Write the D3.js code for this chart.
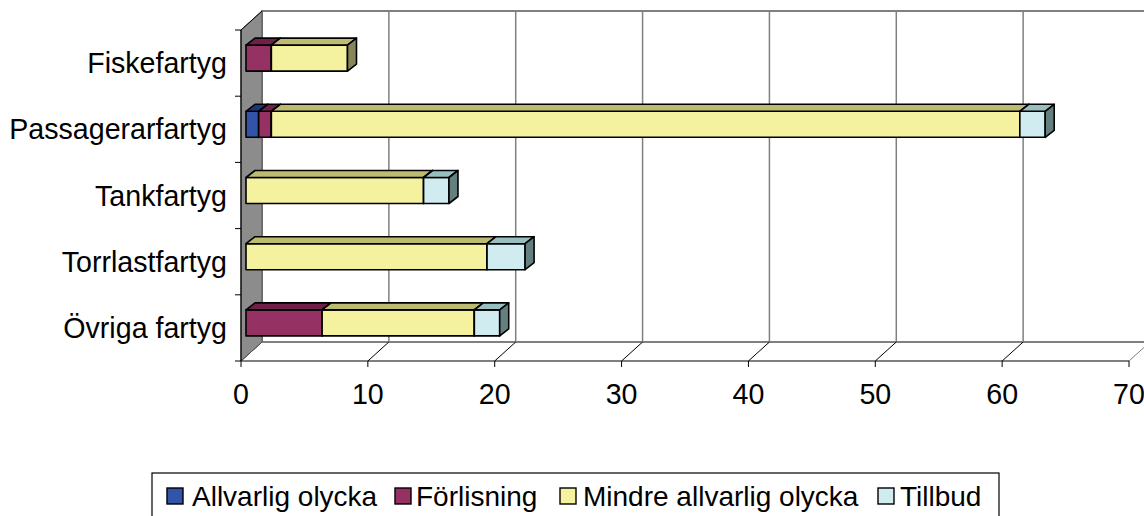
<!DOCTYPE html>
<html>
<head>
  <meta charset="UTF-8">
  <style>
    body { margin: 0; background: #fff; }
    svg { display: block; }
    text { font-family: "Liberation Sans", Arial, sans-serif; font-size: 28.6px; fill: #000; }
    .legend text { font-size: 28px; }
  </style>
</head>
<body>
  <svg width="1144" height="516"></svg>
  <script src="https://d3js.org/d3.v7.min.js"></script>
  <script>
    // data
    const categories = ['Fiskefartyg', 'Passagerarfartyg', 'Tankfartyg', 'Torrlastfartyg', 'Övriga fartyg'];
    const seriesNames = ['Allvarlig olycka', 'Förlisning', 'Mindre allvarlig olycka', 'Tillbud'];
    const allvarlig = [0, 1, 0, 0, 0];
    const forlisning = [2, 1, 0, 0, 6];
    const mindre = [6, 59, 14, 19, 12];
    const tillbud = [0, 2, 2, 3, 2];
    const xTicks = [0, 10, 20, 30, 40, 50, 60, 70];

    const colors = [
      { front: '#3253a8', top: '#1f357a', side: '#1a2c66' },
      { front: '#953163', top: '#6e2049', side: '#5a1a3c' },
      { front: '#f4f19f', top: '#bdbb72', side: '#87865a' },
      { front: '#d1ecf0', top: '#98bfbf', side: '#647f7f' }
    ];

    const svg = d3.select('svg');

    // front plane scales, back wall is shifted by depth
    const x = d3.scaleLinear().domain([0, 70]).range([241, 1129]);
    const y = d3.scaleBand().domain(categories).range([30, 361]);
    const back = { dx: 21, dy: -19 };
    const barOff = { dx: 5, dy: -5 };
    const depth = { dx: 9, dy: -7 };
    const barH = 26;

    const y0 = 30, y1 = 361;

    // back wall
    svg.append('rect')
      .attr('x', x(0) + back.dx).attr('y', y0 + back.dy)
      .attr('width', x(70) - x(0) + 10).attr('height', y1 - y0)
      .attr('fill', '#fff').attr('stroke', '#808080').attr('stroke-width', 2);

    // gridlines on back wall
    svg.append('g').selectAll('line')
      .data(xTicks.slice(1))
      .join('line')
      .attr('x1', d => x(d) + back.dx).attr('x2', d => x(d) + back.dx)
      .attr('y1', y0 + back.dy).attr('y2', y1 + back.dy)
      .attr('stroke', '#808080').attr('stroke-width', 1.5);

    // floor
    svg.append('polygon')
      .attr('points', [[x(0), y1], [x(70), y1], [x(70) + back.dx, y1 + back.dy], [x(0) + back.dx, y1 + back.dy]].join(' '))
      .attr('fill', '#fff').attr('stroke', 'none');
    svg.append('line')
      .attr('x1', x(0) + back.dx).attr('x2', 1144)
      .attr('y1', y1 + back.dy).attr('y2', y1 + back.dy)
      .attr('stroke', '#808080').attr('stroke-width', 2);
    svg.append('g').selectAll('line')
      .data(xTicks)
      .join('line')
      .attr('x1', d => x(d)).attr('y1', y1)
      .attr('x2', d => x(d) + back.dx).attr('y2', y1 + back.dy)
      .attr('stroke', (d, i) => i === xTicks.length - 1 ? '#808080' : '#000').attr('stroke-width', 1);

    // side wall
    svg.append('polygon')
      .attr('points', [[x(0), y0], [x(0) + back.dx, y0 + back.dy], [x(0) + back.dx, y1 + back.dy], [x(0), y1]].join(' '))
      .attr('fill', '#8c8c8c').attr('stroke', '#555').attr('stroke-width', 1);

    // axes lines
    svg.append('line')
      .attr('x1', x(0)).attr('x2', x(70)).attr('y1', y1).attr('y2', y1)
      .attr('stroke', '#000').attr('stroke-width', 1.2);
    svg.append('line')
      .attr('x1', x(0)).attr('x2', x(0)).attr('y1', y0).attr('y2', y1)
      .attr('stroke', '#000').attr('stroke-width', 1.2);
    svg.append('line')
      .attr('x1', x(0)).attr('x2', x(0) + back.dx).attr('y1', y0).attr('y2', y0 + back.dy)
      .attr('stroke', '#000').attr('stroke-width', 1);

    // x ticks and labels
    svg.append('g').selectAll('line')
      .data(xTicks)
      .join('line')
      .attr('x1', d => x(d)).attr('x2', d => x(d))
      .attr('y1', y1).attr('y2', y1 + 6)
      .attr('stroke', '#000');
    svg.append('g').selectAll('text')
      .data(xTicks)
      .join('text')
      .attr('x', d => x(d)).attr('y', 404)
      .attr('text-anchor', 'middle')
      .text(d => d);

    // y ticks and labels
    const yEdges = categories.map(c => y(c)).concat([y1]);
    svg.append('g').selectAll('line')
      .data(yEdges)
      .join('line')
      .attr('x1', x(0) - 6).attr('x2', x(0))
      .attr('y1', d => d).attr('y2', d => d)
      .attr('stroke', '#000');
    svg.append('g').selectAll('text')
      .data(categories)
      .join('text')
      .attr('x', 227)
      .attr('y', d => y(d) + y.bandwidth() / 2 + 10)
      .attr('text-anchor', 'end')
      .text(d => d);

    // stacked 3D bars
    const table = categories.map((c, i) => ({
      cat: c, s0: allvarlig[i], s1: forlisning[i], s2: mindre[i], s3: tillbud[i]
    }));
    const stack = d3.stack().keys(['s0', 's1', 's2', 's3'])(table);

    const bars = svg.append('g');
    categories.forEach((c, ci) => {
      const top = y(c) + y.bandwidth() / 2 + barOff.dy - barH / 2;
      stack.forEach((layer, si) => {
        const [a, b] = layer[ci];
        if (b - a <= 0) return;
        const xa = x(a) + barOff.dx, xb = x(b) + barOff.dx;
        const col = colors[si];
        const g = bars.append('g')
          .attr('stroke', '#000').attr('stroke-width', 1.6).attr('stroke-linejoin', 'round');
        g.append('rect')
          .attr('x', xa).attr('y', top).attr('width', xb - xa).attr('height', barH)
          .attr('fill', col.front);
        g.append('polygon')
          .attr('points', [[xa, top], [xa + depth.dx, top + depth.dy], [xb + depth.dx, top + depth.dy], [xb, top]].join(' '))
          .attr('fill', col.top);
        g.append('polygon')
          .attr('points', [[xb, top], [xb + depth.dx, top + depth.dy], [xb + depth.dx, top + barH + depth.dy], [xb, top + barH]].join(' '))
          .attr('fill', col.side);
      });
    });

    // legend
    const legend = svg.append('g').attr('class', 'legend');
    legend.append('rect')
      .attr('x', 152).attr('y', 473).attr('width', 847).attr('height', 50)
      .attr('fill', '#fff').attr('stroke', '#000').attr('stroke-width', 1.2);
    const legendSq = [167, 395, 560, 878];
    const legendTx = [192, 416, 583, 900];
    seriesNames.forEach((name, i) => {
      legend.append('rect')
        .attr('x', legendSq[i]).attr('y', 488).attr('width', 16).attr('height', 16)
        .attr('fill', colors[i].front).attr('stroke', '#000').attr('stroke-width', 1.4);
      legend.append('text')
        .attr('x', legendTx[i]).attr('y', 506)
        .text(name);
    });
  </script>
</body>
</html>
